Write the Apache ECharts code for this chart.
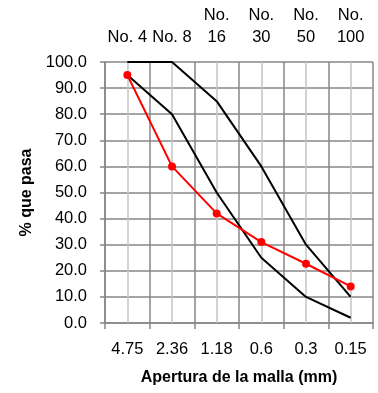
<!DOCTYPE html>
<html>
<head>
<meta charset="utf-8">
<script src="https://cdn.jsdelivr.net/npm/echarts@6/dist/echarts.min.js"></script>
<style>
  html, body { margin: 0; padding: 0; background: #fff; }
  #chart { width: 378px; height: 393px; }
</style>
</head>
<body>
<div id="chart"></div>
<script>
// aperturas (mm) y numero de tamiz
var aperturas = ['4.75', '2.36', '1.18', '0.6', '0.3', '0.15']
var tamices = ['No. 4', 'No. 8', 'No.\n16', 'No.\n30', 'No.\n50', 'No.\n100']
// limites granulometricos y muestra
var limiteSuperior = [100, 100, 85, 60, 30, 10]
var limiteInferior = [95, 80, 50, 25, 10, 2]
var muestra = [95, 60, 42, 31, 22.7, 14]

var gridDark = '#878787'
var gridLight = '#c4c4c4'
var fuente = 'Liberation Sans'

var myChart = echarts.init(document.getElementById('chart'))
var option = {
    animation: false,
    textStyle: { fontFamily: fuente },
    grid: { left: 105, right: 5, top: 62, bottom: 70 },
    xAxis: [
        {
            type: 'category',
            position: 'bottom',
            data: aperturas,
            boundaryGap: true,
            name: 'Apertura de la malla (mm)',
            nameLocation: 'middle',
            nameGap: 47,
            nameTextStyle: { fontSize: 16, fontWeight: 'bold', color: '#000', fontFamily: fuente },
            axisLine: { lineStyle: { color: gridDark, width: 1.5 } },
            axisTick: { show: true, length: 6, lineStyle: { color: gridDark, width: 1.5 } },
            axisLabel: { color: '#000', fontSize: 16.5, margin: 18, interval: 0, fontFamily: fuente },
            splitLine: { show: true, lineStyle: { color: gridDark, width: 1.5 } },
        },
        {
            type: 'category',
            position: 'top',
            data: tamices,
            boundaryGap: true,
            axisLine: { show: false },
            axisTick: { show: false },
            axisLabel: { color: '#000', fontSize: 16.5, margin: 14, interval: 0, lineHeight: 22, fontFamily: fuente },
            splitLine: { show: false },
        },
    ],
    yAxis: {
        type: 'value',
        min: 0,
        max: 100,
        interval: 10,
        name: '% que pasa',
        nameLocation: 'middle',
        nameGap: 70,
        nameRotate: 90,
        nameTextStyle: { fontSize: 16, fontWeight: 'bold', color: '#000', fontFamily: fuente },
        axisLine: { show: true, lineStyle: { color: gridDark, width: 1.5 } },
        axisTick: { show: true, length: 5, lineStyle: { color: gridDark, width: 1.5 } },
        axisLabel: {
            color: '#000', fontSize: 16.5, margin: 18, fontFamily: fuente,
            formatter: function(v) { return v.toFixed(1) },
        },
        splitLine: { show: true, lineStyle: { color: gridDark, width: 1.5 } },
    },
    series: [
        {
            type: 'line',
            data: limiteSuperior,
            showSymbol: false,
            lineStyle: { color: '#000', width: 2 },
            // lineas de guia en el centro de cada tamiz
            markLine: {
                silent: true,
                z: 1,
                symbol: ['none', 'none'],
                label: { show: false },
                lineStyle: { color: gridLight, width: 1.5, type: 'solid' },
                data: aperturas.map(function(a) { return { xAxis: a } }),
            },
        },
        {
            type: 'line',
            data: limiteInferior,
            showSymbol: false,
            lineStyle: { color: '#000', width: 2 },
        },
        {
            type: 'line',
            data: muestra,
            symbol: 'circle',
            symbolSize: 8,
            itemStyle: { color: '#ff0000' },
            lineStyle: { color: '#ff0000', width: 2 },
        },
    ],
}
myChart.setOption(option)
</script>
</body>
</html>
